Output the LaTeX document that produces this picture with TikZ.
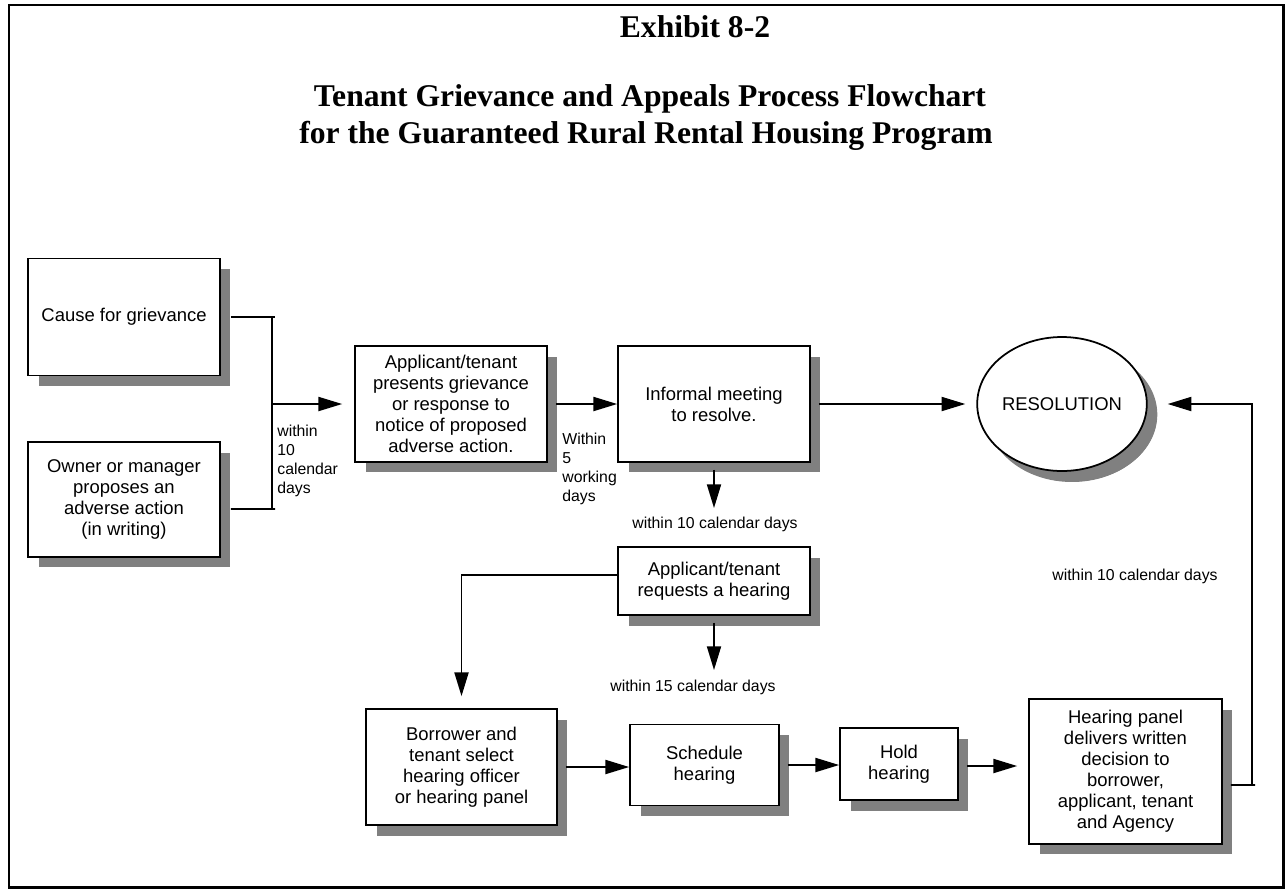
\documentclass[tikz,border=0pt]{standalone}
\usepackage{fontspec}
\setmainfont{Liberation Serif}
\setsansfont{Liberation Sans}
\usetikzlibrary{arrows.meta,shapes.geometric,shadows}
\definecolor{shadowgray}{HTML}{808080}

\begin{document}
\begin{tikzpicture}[x=0.02cm,y=-0.02cm,heading/.style={font=\rmfamily\bfseries\fontsize{18}{21}\selectfont,anchor=base,inner sep=0pt},block/.style={draw=black,line width=1pt,fill=white,align=center,inner sep=2pt,font=\sffamily\fontsize{10.5}{12}\selectfont,general shadow={fill=shadowgray,shadow xshift=0.21cm,shadow yshift=-0.21cm}},note/.style={font=\sffamily\fontsize{9}{10.8}\selectfont,inner sep=0pt},link/.style={line width=1pt,draw=black},arrow/.style={-{Triangle[length=13.5pt,width=8pt]},line width=1pt,draw=black}]
\useasboundingbox (0,0) rectangle (1288,890);
\draw[line width=1.7pt] (9,5) rectangle (1283,887);
% headings
\node[heading] (exhibit) at (695,37) {Exhibit 8-2};
\node[heading] (title) at (650,106) {Tenant Grievance and Appeals Process Flowchart};
\node[heading] (subtitle) at (646,143) {for the Guaranteed Rural Rental Housing Program};
% steps
\node[block,minimum width=3.84cm,minimum height=2.34cm] (cause) at (124,317) {Cause for grievance};
\node[block,minimum width=3.84cm,minimum height=2.3cm] (owner) at (124,499.5) {Owner or manager\\proposes an\\adverse action\\(in writing)};
\node[block,minimum width=3.84cm,minimum height=2.32cm] (present) at (451,404) {Applicant/tenant\\presents grievance\\or response to\\notice of proposed\\adverse action.};
\node[block,minimum width=3.84cm,minimum height=2.32cm] (informal) at (714,404) {Informal meeting\\to resolve.};
\node[block,ellipse,minimum width=3cm,minimum height=2.68cm,inner sep=0pt,general shadow={fill=shadowgray,shadow xshift=0.2cm,shadow yshift=-0.22cm}] (resolution) at (1062,404) {RESOLUTION};
\node[block,minimum width=3.84cm,minimum height=1.36cm] (request) at (714,581) {Applicant/tenant\\requests a hearing};
\node[block,minimum width=3.82cm,minimum height=2.32cm] (borrower) at (461.5,767) {Borrower and\\tenant select\\hearing officer\\or hearing panel};
\node[block,minimum width=2.98cm,minimum height=1.62cm] (schedule) at (704.5,765) {Schedule\\hearing};
\node[block,minimum width=2.36cm,minimum height=1.44cm] (hold) at (899,764) {Hold\\hearing};
\node[block,minimum width=3.86cm,minimum height=2.9cm] (panel) at (1125.5,771.5) {Hearing panel\\delivers written\\decision to\\borrower,\\applicant, tenant\\and Agency};
% time limits
\node[note,anchor=west,align=left] (within10a) at (277,461) {within\\10\\calendar\\days};
\node[note,anchor=west,align=left] (within5) at (562,469) {Within\\5\\working\\days};
\node[note] (within10b) at (715,524) {within 10 calendar days};
\node[note] (within15) at (693,687) {within 15 calendar days};
\node[note] (within10c) at (1135,576) {within 10 calendar days};
% joints
\coordinate (bt) at (272,317);
\coordinate (bb) at (272,509);
\coordinate (jl) at (272,404);
\coordinate (d1) at (714,508);
\coordinate (d2) at (714,670);
\coordinate (jr) at (1252,785);
% connectors
\draw[link] ([xshift=0.2cm]cause.east) -- ([xshift=0.06cm]bt);
\draw[link] ([xshift=0.2cm,yshift=-0.19cm]owner.east) -- ([xshift=0.06cm]bb);
\draw[link] (bt) -- (bb);
\draw[arrow] (jl) -- ([xshift=-0.24cm]present.west);
\draw[arrow] ([xshift=0.16cm]present.east) -- (informal.west);
\draw[arrow] ([xshift=0.16cm]informal.east) -- ([xshift=-0.22cm]resolution.west);
\draw[arrow] ([yshift=-0.14cm]informal.south) -- (d1);
\draw[arrow] ([yshift=-0.14cm]request.south) -- (d2);
\draw[arrow] ([yshift=0.12cm]request.west) -| ([yshift=0.24cm]borrower.north);
\draw[arrow] ([xshift=0.16cm]borrower.east) -- (borrower.east -| schedule.west);
\draw[arrow] ([xshift=0.16cm]schedule.east) -- (schedule.east -| hold.west);
\draw[arrow] ([xshift=0.16cm,yshift=-0.04cm]hold.east) -- ([xshift=-0.22cm,yshift=-0.04cm]hold.east -| panel.west);
\draw[link] ([xshift=0.16cm,yshift=-0.27cm]panel.east) -- ([xshift=0.06cm]jr);
\draw[arrow] (jr) -- (jr |- resolution.east) -- ([xshift=0.4cm]resolution.east);
\end{tikzpicture}
\end{document}
